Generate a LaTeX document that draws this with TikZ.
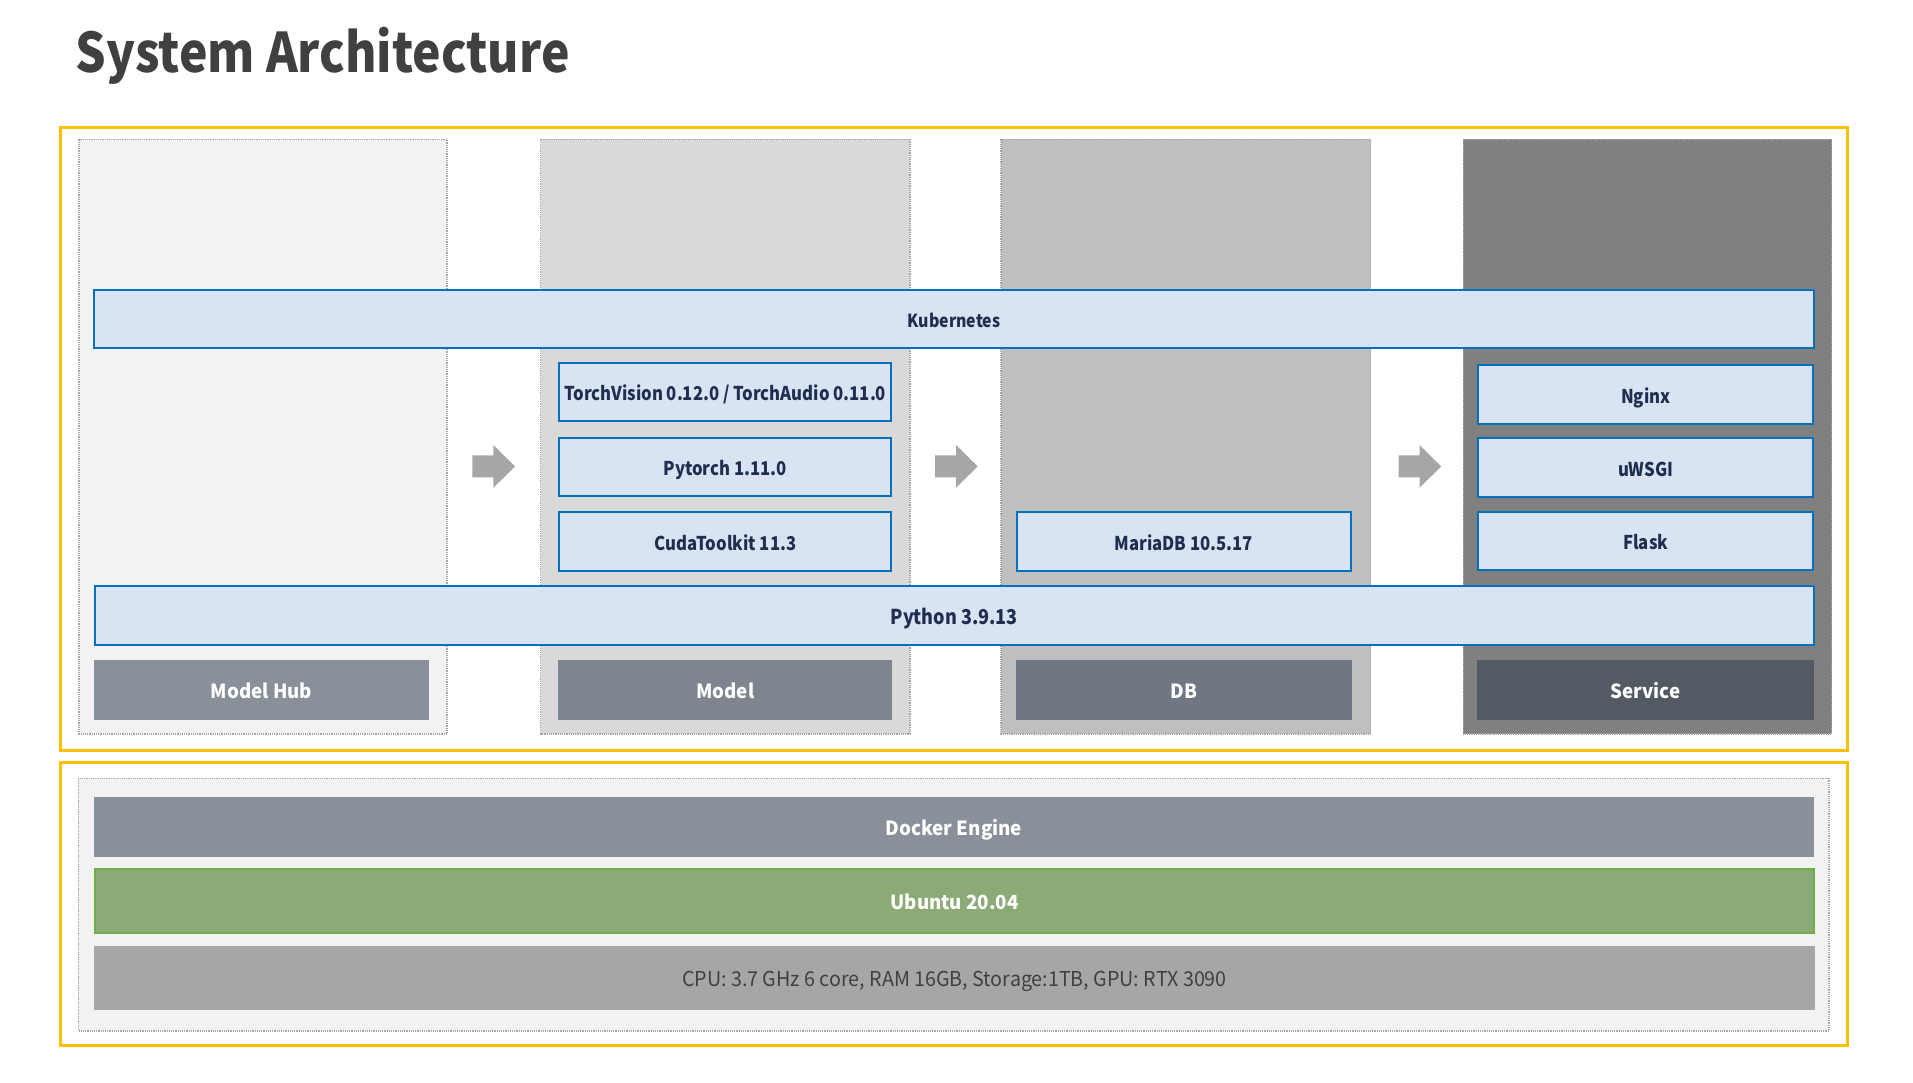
\documentclass[tikz,border=0pt]{standalone}
\usepackage{fontspec}
\setmainfont{Noto Sans CJK KR}[FakeStretch=0.88]
\newfontfamily\cpufont{Noto Sans CJK KR}[FakeStretch=0.96]
\newfontfamily\labfont{Noto Sans CJK KR}[FakeStretch=0.96]
\definecolor{yel}{HTML}{FFC000}
\definecolor{bfill}{HTML}{DAE3F3}
\definecolor{bline}{HTML}{0070C0}
\definecolor{navy}{HTML}{1F2D4F}
\definecolor{dotgray}{HTML}{A6A6A6}
\definecolor{colA}{HTML}{F2F2F2}
\definecolor{colB}{HTML}{D9D9D9}
\definecolor{colC}{HTML}{BFBFBF}
\definecolor{colD}{HTML}{808080}
\definecolor{labA}{HTML}{8A909A}
\definecolor{labB}{HTML}{7F858F}
\definecolor{labC}{HTML}{717782}
\definecolor{labD}{HTML}{535A64}
\definecolor{ubfill}{HTML}{8BAA76}
\definecolor{ubline}{HTML}{70AD47}
\definecolor{hwfill}{HTML}{A6A6A6}
\definecolor{titlec}{HTML}{404040}
\tikzset{
  frame/.style={draw=yel, line width=3pt},
  colbox/.style={draw=dotgray, densely dotted, line width=1.2pt},
  bluebox/.style={fill=bfill, draw=bline, line width=2pt, text=navy, inner sep=0pt,
    text height=17pt, text depth=0pt,
    font=\bfseries\fontsize{19}{21}\selectfont},
  labbox/.style={inner sep=0pt, text=white, text height=17pt, text depth=0pt,
    font=\labfont\bfseries\fontsize{19.5}{21}\selectfont},
  arrowfill/.style={fill=hwfill}
}
\begin{document}
\begin{tikzpicture}[x=1pt,y=-1pt]
\useasboundingbox[fill=white] (0,0) rectangle (1913,1082);
% title
\node[anchor=base west, inner sep=0pt, text=titlec, font=\bfseries\fontsize{54.6}{58}\selectfont] (title) at (75.5,72.5) {System Architecture};
% frames
\draw[frame] (60.7,127.5) rectangle (1847.7,750.2);
\draw[frame] (60.7,762.7) rectangle (1847.7,1045.5);
% columns
\draw[colbox, fill=colA] (79,139.3) rectangle (447,734);
\draw[colbox, fill=colB] (540.7,139.3) rectangle (910,734);
\draw[colbox, fill=colC] (1001,139.3) rectangle (1370.7,734);
\draw[colbox, fill=colD] (1463.3,139.3) rectangle (1831.7,734);
% arrows
\foreach \ax in {472.3,935,1398.5}{
  \fill[arrowfill] (\ax,455.4) -- (\ax+21,455.4) -- (\ax+21,445) -- (\ax+42.7,466.4) -- (\ax+21,487.8) -- (\ax+21,477.4) -- (\ax,477.4) -- cycle;
}
% Kubernetes
\node[bluebox, minimum width=1720pt, minimum height=58.6pt, text height=16pt, font=\bfseries\fontsize{18}{20}\selectfont] (k8s) at (954.2,319) {Kubernetes};
% model column
\node[bluebox, minimum width=332.3pt, minimum height=58pt] (tv) at (725.2,392) {TorchVision 0.12.0 / TorchAudio 0.11.0};
\node[bluebox, minimum width=332.3pt, minimum height=58.6pt] (pt) at (725.2,467) {Pytorch 1.11.0};
\node[bluebox, minimum width=332.3pt, minimum height=58.4pt] (cuda) at (725.2,541.5) {CudaToolkit 11.3};
% db column
\node[bluebox, minimum width=334.3pt, minimum height=58.4pt] (maria) at (1183.9,541.5) {MariaDB 10.5.17};
% service column
\node[bluebox, minimum width=335.3pt, minimum height=58.7pt] (nginx) at (1645.7,394.6) {Nginx};
\node[bluebox, minimum width=335.3pt, minimum height=58.4pt] (uwsgi) at (1645.7,467.5) {uWSGI};
\node[bluebox, minimum width=335.3pt, minimum height=58.3pt] (flask) at (1645.7,541.2) {Flask};
% python
\node[bluebox, minimum width=1719.5pt, minimum height=59pt, text height=18pt, font=\bfseries\fontsize{20.5}{22}\selectfont] (py) at (954.3,615) {Python 3.9.13};
% labels
\node[labbox, fill=labA, minimum width=335pt, minimum height=60pt] (hub) at (261.5,690) {Model Hub};
\node[labbox, fill=labB, minimum width=334pt, minimum height=60pt] (model) at (725.2,690) {Model};
\node[labbox, fill=labC, minimum width=336pt, minimum height=60pt] (db) at (1184,690) {DB};
\node[labbox, fill=labD, minimum width=337pt, minimum height=60pt] (svc) at (1645.5,690) {Service};
% bottom
\draw[colbox, fill=colA] (78.3,778.3) rectangle (1829,1031);
\node[labbox, fill=labA, minimum width=1720pt, minimum height=59.4pt] (docker) at (954,827) {Docker Engine};
\node[labbox, fill=ubfill, draw=ubline, line width=2pt, minimum width=1719pt, minimum height=63.7pt] (ubuntu) at (954.5,901.2) {Ubuntu 20.04};
\node[inner sep=0pt, fill=hwfill, text=titlec, text height=18pt, text depth=0pt, font=\cpufont\fontsize{20.5}{22}\selectfont, minimum width=1721pt, minimum height=64.3pt] (hw) at (954.5,977.9) {CPU: 3.7 GHz 6 core, RAM 16GB, Storage:1TB, GPU: RTX 3090};
\end{tikzpicture}
\end{document}
